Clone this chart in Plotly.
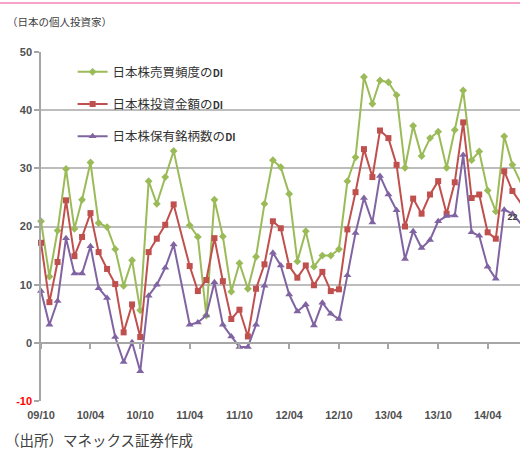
import pandas as pd
import plotly.graph_objects as go

# Monthly survey months (2011/03 was not surveyed -> None)
months = pd.date_range("2009-10-01", periods=59, freq="MS")

names = [
    "日本株売買頻度の<b><span style='font-size:10px'>DI</span></b>",
    "日本株投資金額の<b><span style='font-size:10px'>DI</span></b>",
    "日本株保有銘柄数の<b><span style='font-size:10px'>DI</span></b>",
]

trade_freq = [
    20.9, 11.4, 19.3, 29.9, 19.6, 24.6, 31.0, 20.6, 19.9, 16.1,
    9.8, 14.2, 5.6, 27.8, 23.9, 28.5, 33.0, None, 20.2, 18.2,
    4.7, 24.6, 18.3, 8.8, 13.7, 9.3, 14.8, 23.9, 31.4, 30.2,
    25.6, 14.0, 19.2, 13.1, 15.0, 15.0, 16.1, 27.8, 31.9, 45.7,
    41.1, 45.1, 44.8, 42.6, 30.1, 37.3, 32.1, 35.2, 36.3, 30.1,
    36.6, 43.4, 31.4, 32.9, 26.2, 22.6, 35.5, 30.6, 27.5,
]

invest_amount = [
    17.2, 7.0, 13.9, 24.5, 14.9, 18.2, 22.3, 15.6, 12.7, 10.1,
    1.8, 6.6, 1.0, 15.6, 17.9, 20.3, 23.8, None, 13.2, 8.9,
    10.8, 18.0, 10.6, 4.1, 5.7, 1.1, 9.3, 13.5, 20.9, 19.7,
    13.2, 11.2, 13.3, 9.9, 12.2, 8.9, 9.2, 19.5, 25.9, 33.3,
    28.5, 36.5, 35.2, 30.6, 20.0, 24.8, 22.2, 25.5, 27.8, 22.2,
    27.6, 37.9, 24.9, 25.5, 19.0, 17.9, 29.5, 26.1, 24.0,
]

holdings = [
    8.9, 3.1, 7.2, 18.0, 11.9, 11.9, 16.6, 9.4, 7.7, 1.0,
    -3.3, 0.1, -4.9, 8.1, 10.0, 12.9, 16.9, None, 3.1, 3.5,
    4.7, 10.4, 3.1, 1.1, -0.7, -0.7, 3.1, 9.8, 15.5, 13.3,
    8.3, 5.4, 6.6, 3.0, 6.9, 5.0, 4.1, 11.6, 18.9, 24.9,
    20.7, 28.7, 25.5, 22.8, 14.4, 19.2, 16.3, 17.7, 20.9, 21.8,
    21.9, 32.3, 19.0, 18.4, 13.1, 11.0, 22.9, 22.2, 20.5,
]

x_tick_labels = ["09/10", "10/04", "10/10", "11/04", "11/10",
                 "12/04", "12/10", "13/04", "13/10", "14/04"]
y_ticks = [50, 40, 30, 20, 10, 0, -10]
y_tick_text = ["<b>50</b>", "<b>40</b>", "<b>30</b>", "<b>20</b>",
               "<b>10</b>", "<b>0</b>",
               "<b><span style='color:#ff0000'>-10</span></b>"]

series = [
    (names[0], trade_freq, "#9bbb59", "diamond", 6),
    (names[1], invest_amount, "#c0504d", "square", 6),
    (names[2], holdings, "#8064a2", "triangle-up", 7),
]

fig = go.Figure()
for i, (name, vals, color, symbol, size) in enumerate(series):
    fig.add_trace(go.Scatter(
        x=months, y=vals, name=name, mode="lines+markers",
        connectgaps=True, cliponaxis=False, legendgroup=f"g{i}",
        line=dict(color=color, width=2),
        marker=dict(symbol=symbol, size=size, color=color),
    ))

# value label on the latest holdings point
last = len(holdings) - 2
fig.add_trace(go.Scatter(
    x=[months[last]], y=[holdings[last]], mode="text",
    text=[f"<b>{round(holdings[last])}</b>"], textposition="bottom center",
    textfont=dict(family="Liberation Sans", size=9, color="#404040"),
    showlegend=False, cliponaxis=False, hoverinfo="skip",
))

x_start = months[0]
x_end = pd.Timestamp("2014-07-29")
tick_dates = [months[k] for k in range(0, 59, 6)]

# helper axis drawing the category line at y = 0 with its tick marks
fig.add_trace(go.Scatter(x=[x_start], y=[None], xaxis="x2",
                         showlegend=False, hoverinfo="skip"))

tick_font = dict(family="Liberation Sans", size=11, color="#505050")

fig.update_layout(
    width=520, height=451,
    margin=dict(l=41, r=0, t=52, b=50),
    paper_bgcolor="white", plot_bgcolor="white",
    showlegend=True,
    legend=dict(
        x=0.066, y=0.985, xanchor="left", yanchor="top",
        font=dict(family="Noto Sans CJK JP", size=12.5, color="#333333"),
        bgcolor="rgba(0,0,0,0)", tracegroupgap=13, itemwidth=30,
        traceorder="grouped",
    ),
    xaxis=dict(
        type="date", range=[x_start, x_end],
        tickvals=tick_dates, ticktext=[f"<b>{t}</b>" for t in x_tick_labels],
        ticks="", showgrid=False, showline=False, ticklabelstandoff=6,
        zeroline=False, tickfont=tick_font,
    ),
    xaxis2=dict(
        type="date", range=[x_start, x_end], overlaying="x",
        anchor="free", position=1 / 6, side="bottom",
        tickvals=tick_dates,
        showticklabels=False, ticks="outside", ticklen=5,
        tickcolor="#a6a6a6", tickwidth=1.5,
        showline=True, linecolor="#a6a6a6", linewidth=1.5,
        showgrid=False, zeroline=False,
    ),
    yaxis=dict(
        range=[-10, 50], tickvals=y_ticks, ticktext=y_tick_text,
        showgrid=True, gridcolor="#bdbdbd", gridwidth=1.5,
        zeroline=False, showline=True, linecolor="#a6a6a6", linewidth=1.5,
        ticks="outside", ticklen=5, tickcolor="#a6a6a6", tickwidth=1.5,
        tickfont=tick_font,
    ),
    shapes=[
        dict(type="line", xref="paper", yref="paper",
             x0=-41 / 479, x1=1, y0=1 + 49 / 349, y1=1 + 49 / 349,
             line=dict(color="#f6a3c9", width=2)),
    ],
    annotations=[
        dict(text="（日本の個人投資家）", xref="paper", yref="paper",
             x=-36 / 479, y=1 + 30 / 349, xanchor="left", yanchor="middle",
             showarrow=False,
             font=dict(family="Noto Sans CJK JP", size=10.5, color="#404040")),
        dict(text="（出所）マネックス証券作成", xref="paper", yref="paper",
             x=-38 / 479, y=-38 / 349, xanchor="left", yanchor="middle",
             showarrow=False,
             font=dict(family="Noto Sans CJK JP", size=14.5, color="#404040")),
    ],
)

fig.write_html("out.html")
